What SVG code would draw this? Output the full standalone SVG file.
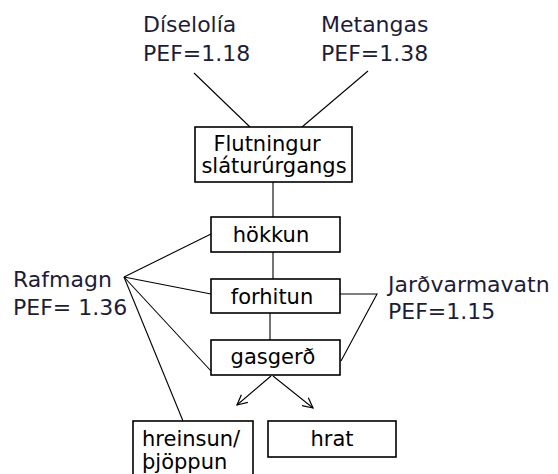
<svg xmlns="http://www.w3.org/2000/svg" width="558" height="474" viewBox="0 0 558 474">
  <style>
    .box { fill: #ffffff; stroke: #000000; stroke-width: 1.6; }
    .lbl { font-family: "DejaVu Sans", Verdana, sans-serif; font-size: 22px; fill: #1c1c3a; }
    .txt { font-family: "DejaVu Sans", Verdana, sans-serif; font-size: 21px; fill: #000000; }
    .mid { text-anchor: middle; }
    .ln { stroke: #000000; stroke-width: 1.1; fill: none; }
  </style>
  <defs>
    <marker id="open" viewBox="0 0 12 12" refX="11" refY="6" markerWidth="12" markerHeight="12" markerUnits="userSpaceOnUse" orient="auto">
      <path d="M1,1 L11,6 L1,11" fill="none" stroke="#000000" stroke-width="1.2"/>
    </marker>
  </defs>
  <rect width="558" height="474" fill="#ffffff"/>

  <!-- connectors -->
  <g id="connectors">
    <line class="ln" x1="194" y1="73" x2="250" y2="127"/>
    <line class="ln" x1="368" y1="71" x2="302" y2="127"/>
    <line class="ln" x1="273" y1="182" x2="273" y2="217"/>
    <line class="ln" x1="273" y1="252" x2="273" y2="279"/>
    <line class="ln" x1="270" y1="313" x2="270" y2="340"/>
    <line class="ln" x1="124" y1="277" x2="211" y2="234"/>
    <line class="ln" x1="124" y1="277" x2="211" y2="294"/>
    <line class="ln" x1="124" y1="277" x2="211" y2="371"/>
    <line class="ln" x1="124" y1="277" x2="183" y2="421"/>
    <polyline class="ln" points="340,294 377,294 341,361"/>
    <line class="ln" x1="271" y1="376" x2="237" y2="405" marker-end="url(#open)"/>
    <line class="ln" x1="273" y1="376" x2="313" y2="408" marker-end="url(#open)"/>
  </g>

  <g id="diselolia">
    <text class="lbl" x="143" y="32">Díselolía</text>
    <text class="lbl" x="143" y="61">PEF=1.18</text>
  </g>
  <g id="metangas">
    <text class="lbl" x="321" y="32">Metangas</text>
    <text class="lbl" x="321" y="61">PEF=1.38</text>
  </g>
  <g id="flutningur">
    <rect class="box" x="195" y="127" width="157" height="55"/>
    <text class="txt mid" x="267" y="151">Flutningur</text>
    <text class="txt mid" x="274" y="173">sláturúrgangs</text>
  </g>
  <g id="hokkun">
    <rect class="box" x="211" y="217" width="129" height="35"/>
    <text class="txt mid" x="271" y="242">hökkun</text>
  </g>
  <g id="forhitun">
    <rect class="box" x="211" y="279" width="129" height="34"/>
    <text class="txt mid" x="272" y="304">forhitun</text>
  </g>
  <g id="gasgerd">
    <rect class="box" x="211" y="340" width="129" height="35"/>
    <text class="txt mid" x="273" y="364">gasgerð</text>
  </g>
  <g id="rafmagn">
    <text class="lbl" x="13" y="287">Rafmagn</text>
    <text class="lbl" x="13" y="315">PEF= 1.36</text>
  </g>
  <g id="jardvarmavatn">
    <text class="lbl" x="388" y="292">Jarðvarmavatn</text>
    <text class="lbl" x="388" y="319">PEF=1.15</text>
  </g>
  <g id="hreinsun">
    <rect class="box" x="133" y="421" width="120" height="60"/>
    <text class="txt" x="142" y="446">hreinsun/</text>
    <text class="txt" x="142" y="469">þjöppun</text>
  </g>
  <g id="hrat">
    <rect class="box" x="268" y="421" width="128" height="36"/>
    <text class="txt mid" x="332" y="446">hrat</text>
  </g>
</svg>
